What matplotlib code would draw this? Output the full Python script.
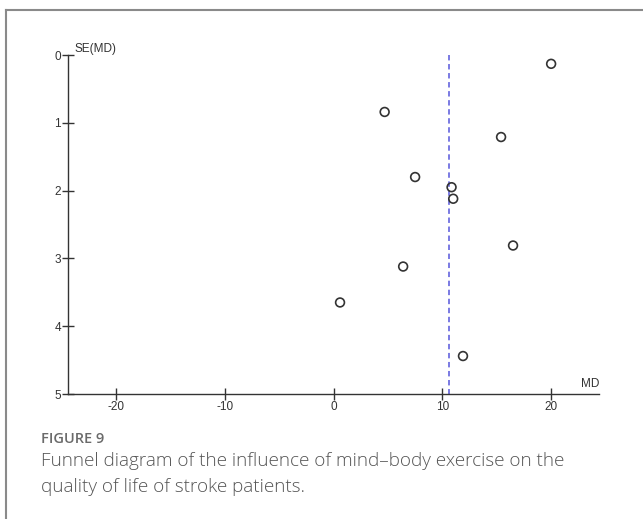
import matplotlib
matplotlib.use("Agg")
import matplotlib.pyplot as plt
from matplotlib.lines import Line2D

plt.rcParams["axes.unicode_minus"] = False

# study effects (MD) and standard errors
md = [20.0, 4.7, 15.4, 7.5, 10.85, 11.0, 16.5, 6.4, 0.6, 11.9]
se = [0.13, 0.84, 1.21, 1.80, 1.95, 2.12, 2.81, 3.12, 3.65, 4.44]
pooled_md = 10.65
x_ticks = [-20, -10, 0, 10, 20]
y_ticks = [0, 1, 2, 3, 4, 5]

W, H = 643, 519
fig = plt.figure(figsize=(W / 100, H / 100), dpi=100)
fig.patch.set_facecolor("white")

ax = fig.add_axes([68 / W, 1 - 394 / H, (599 - 68) / W, (394 - 55) / H])
ax.scatter(md, se, s=40, facecolors="none", edgecolors="#333333", linewidths=1.2, zorder=3)
ax.plot([pooled_md, pooled_md], [0, 5], color="#7070e0", linestyle=(0, (3, 2)), linewidth=1.3)

ax.set_xlim(-24.4, 24.4)
ax.set_ylim(5, 0)
ax.set_xticks(x_ticks)
ax.set_yticks(y_ticks)
for s in ["top", "right"]:
    ax.spines[s].set_visible(False)
for s in ["left", "bottom"]:
    ax.spines[s].set_color("#333333")
    ax.spines[s].set_linewidth(1.0)
ax.tick_params(direction="inout", length=8, width=1.0, color="#333333",
               labelsize=8.5, labelcolor="#333333", pad=1)
for lab in ax.get_xticklabels() + ax.get_yticklabels():
    lab.set_family("Liberation Sans")

ax.text(0.012, 1.0, "SE(MD)", transform=ax.transAxes, ha="left", va="bottom",
        fontsize=8.5, color="#333333", family="Liberation Sans")
ax.text(1.0, 0.012, "MD", transform=ax.transAxes, ha="right", va="bottom",
        fontsize=8.5, color="#333333", family="Liberation Sans")

# outer frame lines (top and left)
fig.add_artist(Line2D([6 / W, 1], [1 - 10 / H, 1 - 10 / H], transform=fig.transFigure,
                      color="#8a8a8a", linewidth=1.5))
fig.add_artist(Line2D([6 / W, 6 / W], [0, 1 - 10 / H], transform=fig.transFigure,
                      color="#8a8a8a", linewidth=1.5))

fig.text(41 / W, 1 - 439 / H, "FIGURE 9", ha="left", va="center", fontsize=10.5,
         color="#6a6a6a", family="Open Sans", fontweight="semibold")
fig.text(41 / W, 1 - 461 / H, "Funnel diagram of the influence of mind\u2013body exercise on the",
         ha="left", va="center", fontsize=13.6, color="#555555", family="Open Sans",
         fontweight="light")
fig.text(41 / W, 1 - 487 / H, "quality of life of stroke patients.",
         ha="left", va="center", fontsize=13.6, color="#555555", family="Open Sans",
         fontweight="light")

fig.savefig("out.png", dpi=100, facecolor="white")
